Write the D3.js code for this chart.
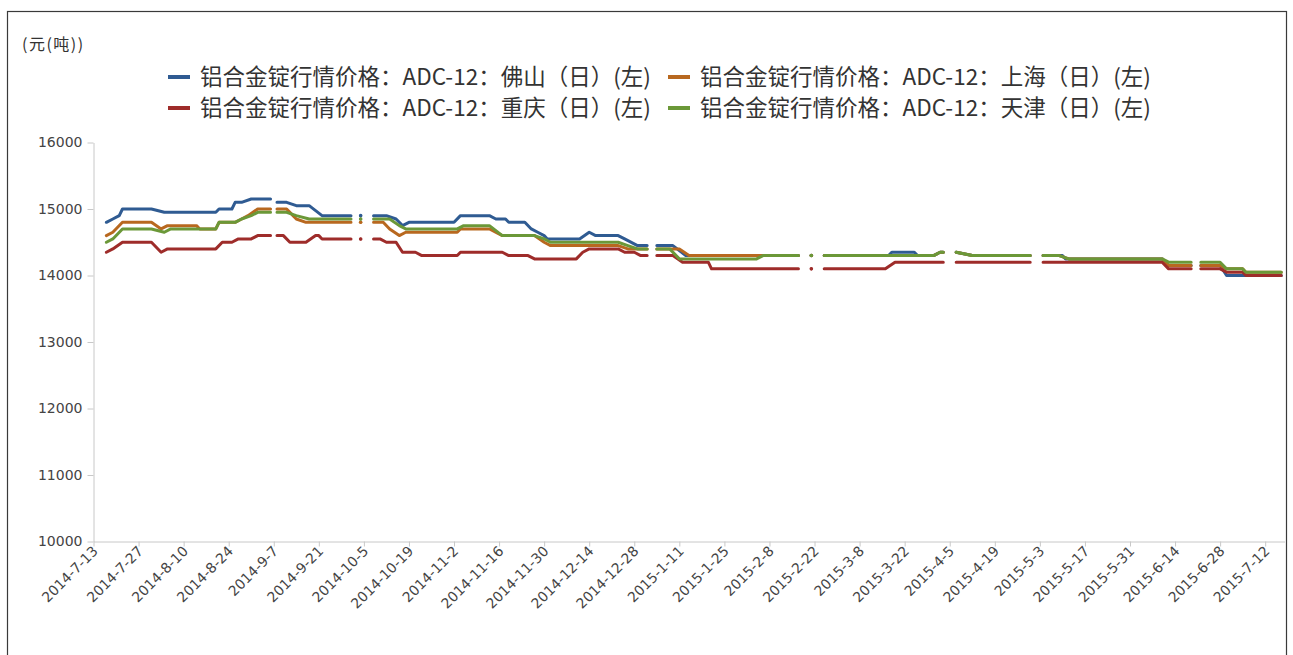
<!DOCTYPE html>
<html>
<head>
<meta charset="utf-8">
<script src="https://cdn.jsdelivr.net/npm/d3@7"></script>
<style>
  body { margin: 0; background: #fff; }
  .axis path, .axis line { stroke: #c8c8c8; }
  .axis text { fill: #444; font-family: "DejaVu Sans", Verdana, sans-serif; font-size: 14px; }
  .line { fill: none; stroke-width: 3; stroke-linejoin: round; stroke-linecap: round; }
</style>
</head>
<body>
<svg class="chart"></svg>
<script>
// 铝合金锭行情价格 ADC-12, 元/吨 (change points, null = holiday gap)
let foshanDates = ["2014-7-17","2014-7-19","2014-7-21","2014-7-22","2014-7-31","2014-8-4","2014-8-20","2014-8-21","2014-8-25","2014-8-26","2014-8-28","2014-8-31","2014-9-6","2014-9-7","2014-9-8","2014-9-11","2014-9-14","2014-9-18","2014-9-22","2014-10-1","2014-10-2","2014-10-4","2014-10-6","2014-10-8","2014-10-12","2014-10-15","2014-10-17","2014-10-19","2014-11-2","2014-11-4","2014-11-13","2014-11-15","2014-11-18","2014-11-19","2014-11-24","2014-11-26","2014-11-28","2014-11-30","2014-12-1","2014-12-11","2014-12-14","2014-12-16","2014-12-23","2014-12-25","2014-12-29","2015-1-1","2015-1-2","2015-1-4","2015-1-9","2015-1-13","2015-2-17","2015-2-19","2015-2-21","2015-2-23","2015-2-25","2015-3-17","2015-3-18","2015-3-25","2015-3-26","2015-3-31","2015-4-2","2015-4-3","2015-4-5","2015-4-7","2015-4-12","2015-4-30","2015-5-2","2015-5-4","2015-5-10","2015-5-11","2015-6-10","2015-6-12","2015-6-19","2015-6-20","2015-6-22","2015-6-28","2015-6-30","2015-7-17"];
let foshanValues = [14800,14850,14900,15000,15000,14950,14950,15000,15000,15100,15100,15150,15150,null,15100,15100,15050,15050,14900,14900,null,14900,null,14900,14900,14850,14750,14800,14800,14900,14900,14850,14850,14800,14800,14700,14650,14600,14550,14550,14650,14600,14600,14550,14450,14450,null,14450,14450,14300,14300,null,14300,null,14300,14300,14350,14350,14300,14300,14350,14350,null,14350,14300,14300,null,14300,14300,14250,14250,14150,14150,null,14150,14150,14000,14000];

let shanghaiDates = ["2014-7-17","2014-7-19","2014-7-22","2014-7-31","2014-8-3","2014-8-5","2014-8-14","2014-8-15","2014-8-20","2014-8-21","2014-8-26","2014-8-28","2014-8-30","2014-9-2","2014-9-6","2014-9-7","2014-9-8","2014-9-11","2014-9-13","2014-9-14","2014-9-17","2014-10-1","2014-10-2","2014-10-4","2014-10-6","2014-10-8","2014-10-11","2014-10-13","2014-10-16","2014-10-18","2014-11-3","2014-11-4","2014-11-13","2014-11-17","2014-11-27","2014-11-30","2014-12-2","2014-12-23","2014-12-26","2015-1-1","2015-1-2","2015-1-4","2015-1-11","2015-1-14","2015-2-17","2015-2-19","2015-2-21","2015-2-23","2015-2-25","2015-3-31","2015-4-2","2015-4-3","2015-4-5","2015-4-7","2015-4-12","2015-4-30","2015-5-2","2015-5-4","2015-5-9","2015-5-12","2015-6-10","2015-6-12","2015-6-19","2015-6-20","2015-6-22","2015-6-28","2015-6-30","2015-7-5","2015-7-6","2015-7-17"];
let shanghaiValues = [14600,14650,14800,14800,14700,14750,14750,14700,14700,14800,14800,14850,14900,15000,15000,null,15000,15000,14900,14850,14800,14800,null,14800,null,14800,14800,14700,14600,14650,14650,14700,14700,14600,14600,14500,14450,14450,14400,14400,null,14400,14400,14300,14300,null,14300,null,14300,14300,14350,14350,null,14350,14300,14300,null,14300,14300,14250,14250,14150,14150,null,14150,14150,14100,14100,14050,14050];

let chongqingDates = ["2014-7-17","2014-7-19","2014-7-22","2014-7-31","2014-8-3","2014-8-5","2014-8-20","2014-8-22","2014-8-25","2014-8-27","2014-8-31","2014-9-2","2014-9-6","2014-9-7","2014-9-8","2014-9-10","2014-9-12","2014-9-17","2014-9-20","2014-9-21","2014-9-22","2014-10-1","2014-10-2","2014-10-4","2014-10-6","2014-10-8","2014-10-10","2014-10-12","2014-10-15","2014-10-17","2014-10-21","2014-10-23","2014-11-3","2014-11-4","2014-11-17","2014-11-19","2014-11-25","2014-11-27","2014-12-10","2014-12-12","2014-12-14","2014-12-23","2014-12-25","2014-12-28","2014-12-30","2015-1-1","2015-1-2","2015-1-4","2015-1-9","2015-1-12","2015-1-20","2015-1-21","2015-2-17","2015-2-19","2015-2-21","2015-2-23","2015-2-25","2015-3-16","2015-3-19","2015-4-3","2015-4-5","2015-4-7","2015-4-30","2015-5-2","2015-5-4","2015-6-10","2015-6-12","2015-6-19","2015-6-20","2015-6-22","2015-6-28","2015-6-30","2015-7-5","2015-7-6","2015-7-17"];
let chongqingValues = [14350,14400,14500,14500,14350,14400,14400,14500,14500,14550,14550,14600,14600,null,14600,14600,14500,14500,14600,14600,14550,14550,null,14550,null,14550,14550,14500,14500,14350,14350,14300,14300,14350,14350,14300,14300,14250,14250,14350,14400,14400,14350,14350,14300,14300,null,14300,14300,14200,14200,14100,14100,null,14100,null,14100,14100,14200,14200,null,14200,14200,null,14200,14200,14100,14100,null,14100,14100,14050,14050,14000,14000];

let tianjinDates = ["2014-7-17","2014-7-19","2014-7-22","2014-7-31","2014-8-4","2014-8-6","2014-8-20","2014-8-21","2014-8-26","2014-8-28","2014-8-31","2014-9-2","2014-9-6","2014-9-7","2014-9-8","2014-9-11","2014-9-14","2014-9-18","2014-10-1","2014-10-2","2014-10-4","2014-10-6","2014-10-8","2014-10-13","2014-10-16","2014-10-18","2014-11-3","2014-11-5","2014-11-13","2014-11-17","2014-11-27","2014-11-30","2014-12-2","2014-12-23","2014-12-26","2014-12-29","2015-1-1","2015-1-2","2015-1-4","2015-1-8","2015-1-11","2015-2-4","2015-2-6","2015-2-17","2015-2-19","2015-2-21","2015-2-23","2015-2-25","2015-3-31","2015-4-2","2015-4-3","2015-4-5","2015-4-7","2015-4-12","2015-4-30","2015-5-2","2015-5-4","2015-5-9","2015-5-12","2015-6-10","2015-6-12","2015-6-19","2015-6-20","2015-6-22","2015-6-28","2015-6-30","2015-7-5","2015-7-6","2015-7-17"];
let tianjinValues = [14500,14550,14700,14700,14650,14700,14700,14800,14800,14850,14900,14950,14950,null,14950,14950,14900,14850,14850,null,14850,null,14850,14850,14750,14700,14700,14750,14750,14600,14600,14550,14500,14500,14450,14400,14400,null,14400,14400,14250,14250,14300,14300,null,14300,null,14300,14300,14350,14350,null,14350,14300,14300,null,14300,14300,14250,14250,14200,14200,null,14200,14200,14100,14100,14050,14050];

let seriesNames = ["铝合金锭行情价格：ADC-12：佛山（日）(左)", "铝合金锭行情价格：ADC-12：上海（日）(左)",
                   "铝合金锭行情价格：ADC-12：重庆（日）(左)", "铝合金锭行情价格：ADC-12：天津（日）(左)"];
let seriesColors = ["#2f5b92", "#b8681f", "#9e2c2a", "#6b9838"];

let xTickLabels = ["2014-7-13","2014-7-27","2014-8-10","2014-8-24","2014-9-7","2014-9-21","2014-10-5","2014-10-19","2014-11-2","2014-11-16","2014-11-30","2014-12-14","2014-12-28","2015-1-11","2015-1-25","2015-2-8","2015-2-22","2015-3-8","2015-3-22","2015-4-5","2015-4-19","2015-5-3","2015-5-17","2015-5-31","2015-6-14","2015-6-28","2015-7-12"];
let yTicks = [10000, 11000, 12000, 13000, 14000, 15000, 16000];

let parse = d3.timeParse("%Y-%m-%d");
let fmt = d3.timeFormat("%Y-%-m-%-d");

let series = [
  [foshanDates, foshanValues],
  [shanghaiDates, shanghaiValues],
  [chongqingDates, chongqingValues],
  [tianjinDates, tianjinValues]
].map(function(s, k) {
  return {
    name: seriesNames[k],
    color: seriesColors[k],
    points: s[0].map(function(d, i) { return {date: parse(d), value: s[1][i]}; })
  };
});

let width = 1293, height = 655;

let svg = d3.select(".chart")
    .attr("width", width)
    .attr("height", height);

svg.append("rect")
    .attr("width", width).attr("height", height)
    .attr("fill", "#fff");

// outer frame
svg.append("rect")
    .attr("x", 7.5).attr("y", 11.5)
    .attr("width", 1279).attr("height", 700)
    .attr("fill", "none")
    .attr("stroke", "#3a3a3a")
    .attr("stroke-width", 1.2);

let xScale = d3.scaleTime()
    .domain([parse("2014-7-13"), parse("2015-7-18")])
    .range([93.5, 1284.5]);
let yScale = d3.scaleLinear()
    .domain([10000, 16000])
    .range([541.5, 142.5]);

// unit label
svg.append("text")
    .attr("x", 22).attr("y", 50)
    .style("font-family", "'Noto Sans CJK SC', sans-serif")
    .style("font-size", "16px")
    .style("letter-spacing", "1.5px")
    .style("fill", "#333")
    .text("(元(吨))");

// y axis
let yAxis = svg.append("g")
    .attr("class", "axis")
    .attr("transform", "translate(93.5,0)")
    .call(d3.axisLeft(yScale).tickValues(yTicks).tickSize(6).tickSizeOuter(0).tickFormat(d3.format("d")));
yAxis.selectAll("text").attr("x", -11);

// x axis
let xAxis = svg.append("g")
    .attr("class", "axis")
    .attr("transform", "translate(0,541.5)")
    .call(d3.axisBottom(xScale)
      .tickValues(xTickLabels.map(parse))
      .tickSize(5)
      .tickSizeOuter(0)
      .tickFormat(fmt));
xAxis.selectAll("text")
    .attr("x", -4)
    .attr("y", 6)
    .attr("dy", "0.35em")
    .attr("transform", "rotate(-45)")
    .style("text-anchor", "end");

let line = d3.line()
    .defined(function(d) { return d.value != null; })
    .x(function(d) { return xScale(d.date); })
    .y(function(d) { return yScale(d.value); });

let plot = svg.append("g");

series.forEach(function(s) {
  plot.append("path")
      .datum(s.points)
      .attr("class", "line")
      .attr("stroke", s.color)
      .attr("d", line);

  // isolated single days between holiday gaps
  let lonely = s.points.filter(function(d, i, arr) {
    return d.value != null
      && (i == 0 || arr[i - 1].value == null)
      && (i == arr.length - 1 || arr[i + 1].value == null);
  });
  plot.selectAll(null)
      .data(lonely)
    .enter().append("circle")
      .attr("cx", function(d) { return xScale(d.date); })
      .attr("cy", function(d) { return yScale(d.value); })
      .attr("r", 1.8)
      .attr("fill", s.color);
});

// legend, two per row
let legend = svg.append("g")
    .style("font-family", "'Noto Sans CJK SC', sans-serif")
    .style("font-size", "22.5px")
    .style("fill", "#333");

let item = legend.selectAll("g")
    .data(series)
  .enter().append("g")
    .attr("transform", function(d, i) {
      return "translate(" + (168 + (i % 2) * 500) + "," + (77 + Math.floor(i / 2) * 31) + ")";
    });

item.append("line")
    .attr("x1", 0).attr("x2", 22)
    .attr("stroke", function(d) { return d.color; })
    .attr("stroke-width", 4);

item.append("text")
    .attr("x", 32)
    .attr("dy", "0.35em")
    .text(function(d) { return d.name; });
</script>
</body>
</html>
